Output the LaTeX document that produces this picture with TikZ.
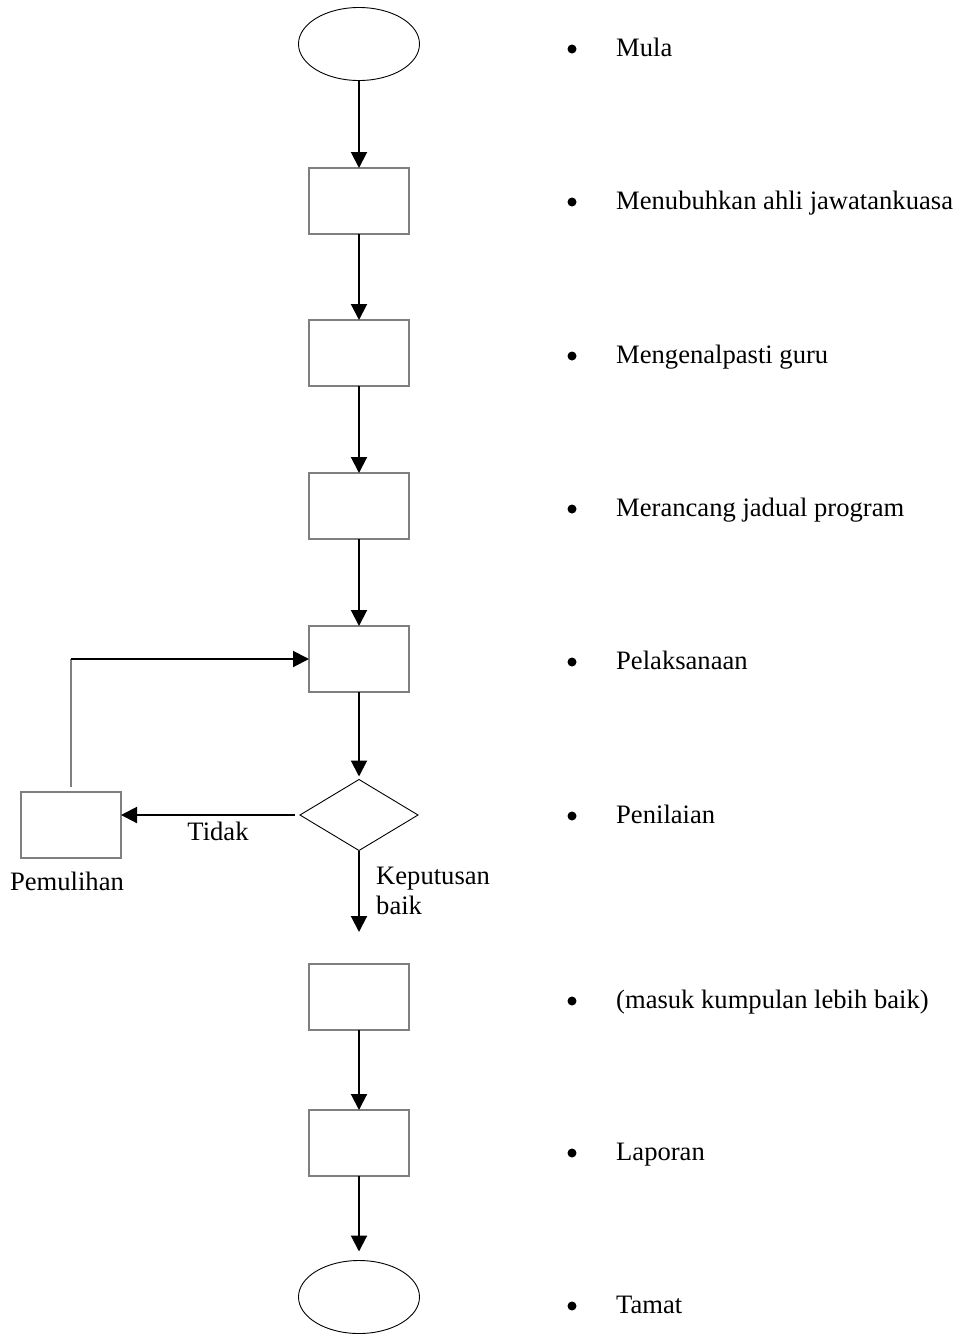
\documentclass[tikz,border=0pt]{standalone}
\usepackage{fontspec}
\setmainfont{Liberation Serif}
\usetikzlibrary{shapes.geometric,arrows.meta}
\definecolor{boxgray}{HTML}{7F7F7F}
\begin{document}
\begin{tikzpicture}[x=1pt,y=-1pt,
  font=\fontsize{26.6}{30}\selectfont,
  stepbox/.style={draw=boxgray,line width=2pt,rectangle,minimum width=100pt,minimum height=66pt,inner sep=0pt,outer sep=0pt},
  terminal/.style={draw=black,line width=0.9pt,ellipse,minimum width=121pt,minimum height=73pt,inner sep=0pt,outer sep=0pt},
  decision/.style={draw=black,line width=0.9pt,diamond,minimum width=118pt,minimum height=71pt,inner sep=0pt,outer sep=0pt},
  flow/.style={line width=2pt,-{Triangle[width=16pt,length=16pt]}},
  item/.style={anchor=base west,inner sep=0pt},
  dot/.style={circle,fill=black,minimum size=9pt,inner sep=0pt}
]
\useasboundingbox (0,0) rectangle (959,1334);

% flow chart
\node[terminal] (start) at (359,44) {};
\node[stepbox] (r1) at (359,201) {};
\node[stepbox] (r2) at (359,353) {};
\node[stepbox] (r3) at (359,506) {};
\node[stepbox] (r4) at (359,659) {};
\node[decision] (dec) at (359,815) {};
\node[stepbox] (pem) at (71,825) {};
\node[stepbox] (r5) at (359,997) {};
\node[stepbox] (r6) at (359,1143) {};
\node[terminal] (stop) at (359,1297) {};

\coordinate (yes) at (359,932);
\coordinate (bend) at (71,659);

\draw[flow] (start) -- (r1);
\draw[flow] (r1) -- (r2);
\draw[flow] (r2) -- (r3);
\draw[flow] (r3) -- (r4);
\draw[flow,shorten >=3pt] (r4) -- (dec);
\draw[flow] (dec.south) -- (yes);
\draw[flow,shorten <=5pt] (dec.west) -- (dec.west -| pem.east);
\draw[boxgray,line width=2pt,shorten <=5pt] (pem.north) -- (bend);
\draw[flow] (bend) -- (r4.west);
\draw[flow] (r5) -- (r6);
\draw[flow,shorten >=9pt] (r6) -- (stop);

% connector labels
\node[anchor=base,inner sep=0pt] (tidak) at (218,840) {Tidak};
\node[anchor=base,inner sep=0pt] (pemlabel) at (67,890) {Pemulihan};
\node[item] (kep1) at (376,884) {Keputusan};
\node[item] (kep2) at (376,914) {baik};

% step descriptions
\foreach \name/\y/\txt in {
  s1/56/Mula,
  s2/209/Menubuhkan ahli jawatankuasa,
  s3/363/Mengenalpasti guru,
  s4/516/Merancang jadual program,
  s5/669/Pelaksanaan,
  s6/823/Penilaian,
  s7/1008/(masuk kumpulan lebih baik),
  s8/1160/Laporan,
  s9/1313/Tamat}
{
  \node[dot] (\name b) at (572,\y-7) {};
  \node[item] (\name) at (616,\y) {\txt};
}
\end{tikzpicture}
\end{document}
